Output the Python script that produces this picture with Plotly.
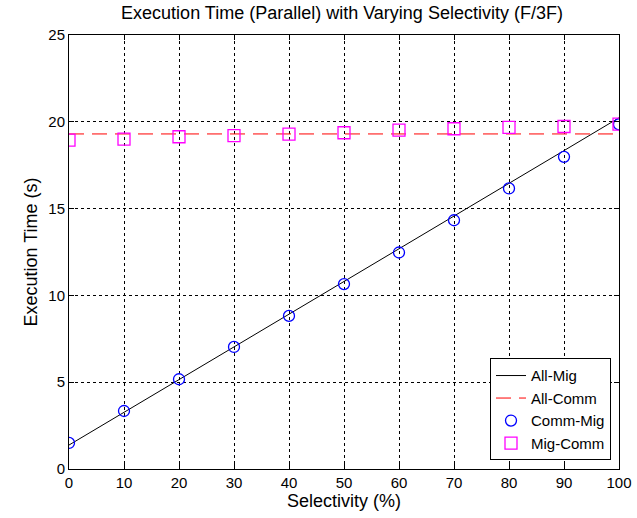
import plotly.graph_objects as go

selectivity = [0, 10, 20, 30, 40, 50, 60, 70, 80, 90, 100]
all_mig = [1.38, 3.26, 5.15, 7.03, 8.92, 10.80, 12.69, 14.57, 16.46, 18.34, 20.23]
all_comm = [19.3, 19.3, 19.3, 19.3, 19.3, 19.3, 19.3, 19.3, 19.3, 19.3, 19.3]
comm_mig = [1.50, 3.34, 5.17, 7.03, 8.82, 10.65, 12.47, 14.33, 16.16, 17.98, 19.85]
mig_comm = [18.94, 19.0, 19.14, 19.2, 19.29, 19.37, 19.52, 19.6, 19.68, 19.73, 19.87]

FONT = "Liberation Sans, Arial, sans-serif"

fig = go.Figure()
fig.add_trace(go.Scatter(x=selectivity, y=all_mig, mode="lines", name="All-Mig",
                         line=dict(color="black", width=1)))
fig.add_trace(go.Scatter(x=selectivity, y=all_comm, mode="lines", name="All-Comm",
                         line=dict(color="#ff0000", width=1, dash="15px,8px")))
fig.add_trace(go.Scatter(x=selectivity, y=comm_mig, mode="markers", name="Comm-Mig",
                         marker=dict(symbol="circle-open", size=11, color="#0000ff",
                                     line=dict(width=1.3, color="#0000ff"))))
fig.add_trace(go.Scatter(x=selectivity, y=mig_comm, mode="markers", name="Mig-Comm",
                         marker=dict(symbol="square-open", size=12, color="#ff00ff",
                                     line=dict(width=1.3, color="#ff00ff"))))

axis_common = dict(
    showline=True, linecolor="black", linewidth=1, mirror="ticks",
    ticks="inside", ticklen=5, tickcolor="black",
    showgrid=True, gridcolor="black", gridwidth=1, griddash="3px,3px",
    zeroline=False, automargin=False,
    tickfont=dict(family=FONT, size=15, color="black"),
)

fig.update_layout(
    width=637, height=518,
    margin=dict(l=69, r=18, t=35, b=49),
    paper_bgcolor="white", plot_bgcolor="white",
    font=dict(family=FONT, color="black"),
    title=dict(text="Execution Time (Parallel) with Varying Selectivity (F/3F)",
               x=342 / 637, xanchor="center", y=1 - 13 / 518, yanchor="middle",
               font=dict(family=FONT, size=18, color="black")),
    xaxis=dict(range=[0, 100], tickvals=[0, 10, 20, 30, 40, 50, 60, 70, 80, 90, 100],
               title=dict(text="Selectivity (%)", font=dict(family=FONT, size=18), standoff=4),
               **axis_common),
    yaxis=dict(range=[0, 25], tickvals=[0, 5, 10, 15, 20, 25],
               title=dict(text="Execution Time (s)", font=dict(family=FONT, size=18), standoff=6),
               **axis_common),
    legend=dict(x=(611 - 69) / 550, xanchor="right", y=(468.7 - 460) / 433.7, yanchor="bottom",
                bgcolor="white", bordercolor="black", borderwidth=1,
                font=dict(family=FONT, size=15, color="black"),
                tracegroupgap=0, itemwidth=30),
    showlegend=True,
)

fig.write_html("out.html")
